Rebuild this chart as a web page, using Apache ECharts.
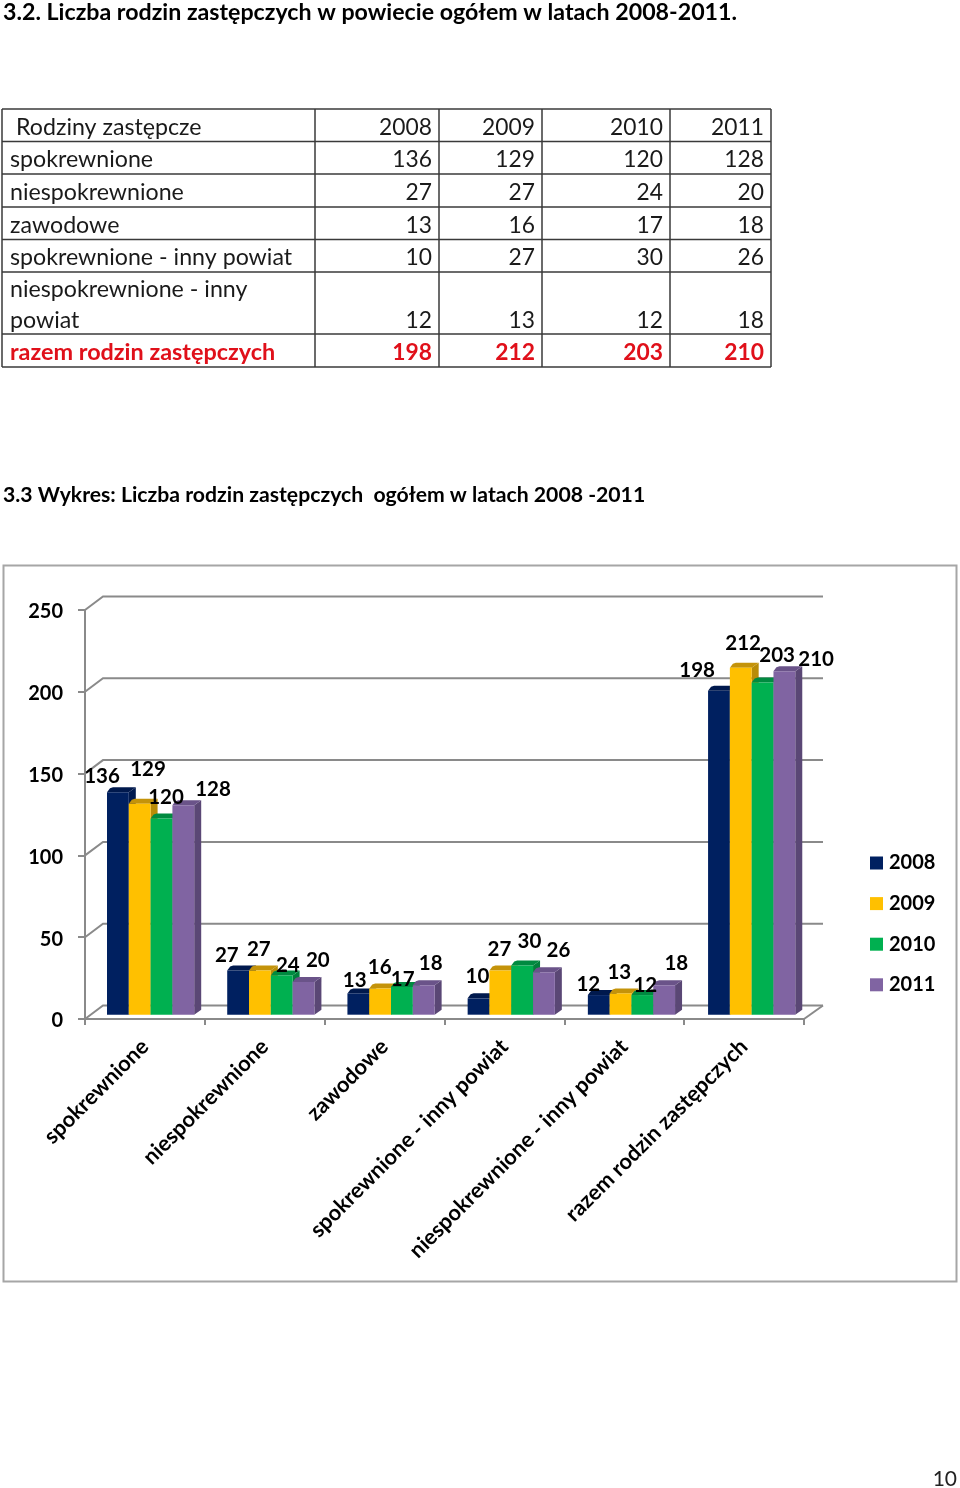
<!DOCTYPE html>
<html><head><meta charset="utf-8">
<style>html,body{margin:0;padding:0;background:#fff}#c{width:960px;height:1488px}</style>
<script src="https://cdn.jsdelivr.net/npm/echarts@6/dist/echarts.min.js"></script>
</head><body><div id="c"></div>
<script>
const categories = ['spokrewnione','niespokrewnione','zawodowe','spokrewnione - inny powiat','niespokrewnione - inny powiat','razem rodzin zastępczych'];
const years = ['2008','2009','2010','2011'];
const v2008 = [136,27,13,10,12,198];
const v2009 = [129,27,16,27,13,212];
const v2010 = [120,24,17,30,12,203];
const v2011 = [128,20,18,26,18,210];
const yTicks = [0,50,100,150,200,250];
const tableHeader = ['Rodziny zastępcze','2008','2009','2010','2011'];
const tableRows = [
  ['spokrewnione','136','129','120','128'],
  ['niespokrewnione','27','27','24','20'],
  ['zawodowe','13','16','17','18'],
  ['spokrewnione - inny powiat','10','27','30','26'],
  ['niespokrewnione - inny\npowiat','12','13','12','18'],
  ['razem rodzin zastępczych','198','212','203','210']
];
const title1 = '3.2. Liczba rodzin zastępczych w powiecie ogółem w latach 2008-2011.';
const title2 = '3.3 Wykres: Liczba rodzin zastępczych  ogółem w latach 2008 -2011';
const pageNo = '10';

// styling tables
const FONT = 'Lato, "Open Sans", sans-serif';
const faces = ['#002060','#FFC000','#00B050','#8064A2'];
const tops  = ['#00194d','#c4930a','#008a40','#6a5389'];
const sides = ['#001a4f','#b98c08','#007f3a','#5a4775'];
const labelNudge = [
 [[-16,-16],[8,-34],[4,-21],[29,-16]],
 [[-11,-15],[-1,-21],[6,-10],[14,-22]],
 [[-3,-13],[0,-21],[1,-7],[7,-22]],
 [[0,-22],[0,-21],[8,-24],[15,-22]],
 [[-9,-11],[0,-21],[4,-10],[13,-22]],
 [[-20,-20],[4,-24],[16,-27],[33,-12]]
];
const values = [v2008,v2009,v2010,v2011];
const colX = [2,315,439,542,670,771];
const rowY = [109,141.5,174,207,239.5,272,334,367];
const GREY = '#8a8a8a';
const DX = 18, DY = 13.5;      // wall depth
const BX = 7, BY = 5, BASE = 4.3, BW = 21.8, LEAD = 22, DRIFT = 0.38; // bar depth, size

const g = [];
const txt = (t,x,y,size,o={}) => g.push({type:'text',x,y,silent:true,style:{text:t,font:`${o.weight||'normal'} ${size}px ${FONT}`,fill:o.fill||'#111',align:o.align||'left',verticalAlign:'middle',lineHeight:size}});
txt(title1,3,13,23.2,{weight:'bold',fill:'#000'});
txt(title2,3,495,21.2,{weight:'bold',fill:'#000'});
txt(pageNo,957,1479,21,{align:'right',fill:'#222'});
// table grid
rowY.forEach(y=>g.push({type:'line',silent:true,shape:{x1:colX[0],y1:y,x2:colX[5],y2:y},style:{stroke:'#3a3a3a',lineWidth:1.5}}));
colX.forEach(x=>g.push({type:'line',silent:true,shape:{x1:x,y1:rowY[0],x2:x,y2:rowY[7]},style:{stroke:'#3a3a3a',lineWidth:1.5}}));
const TS = 23.2, TN = 22.8;
const rowsAll = [tableHeader].concat(tableRows);
rowsAll.forEach((r,i)=>{
  const red = i===6, two = i===5;
  const yc = two ? 321 : (rowY[i]+rowY[i+1])/2+2;
  const o = red?{weight:'bold',fill:'#e0101a'}:{fill:'#1a1a1a'};
  if(two){
    const parts = r[0].split('\n');
    txt(parts[0],10,290,TS,o); txt(parts[1],10,321,TS,o);
  } else txt(r[0],i===0?16:10,yc,red?23.4:TS,o);
  for(let k=1;k<5;k++) txt(r[k],colX[k+1]-7,yc,TN,Object.assign({align:'right'},o));
});
// chart frame
g.push({type:'rect',silent:true,z:-1,shape:{x:3.5,y:565.5,width:953,height:716},style:{fill:'none',stroke:'#a6a6a6',lineWidth:2}});

function barSeries(s){
  return {
    name: years[s], type:'custom', coordinateSystem:'cartesian2d', clip:false, z:3+s,
    itemStyle:{color:faces[s]},
    data: categories.map((c,i)=>[i,values[s][i]]),
    renderItem(params,api){
      const p = api.coord([api.value(0),api.value(1)]);
      const z = api.coord([api.value(0),0]);
      const band = api.size([1,0])[0];
      const x0 = p[0]-band/2+LEAD+BW*s+api.value(0)*DRIFT, x1 = x0+BW, yT = p[1]-BASE, yB = z[1]-BASE;
      return {type:'group',children:[
        {type:'polygon',shape:{points:[[x1,yT],[x1+BX,yT-BY],[x1+BX,yB-BY],[x1,yB]]},style:{fill:sides[s]}},
        {type:'polygon',shape:{points:[[x0,yT],[x0+3,yT-BY+1],[x0+6,yT-BY],[x1+BX,yT-BY],[x1,yT]]},style:{fill:tops[s]}},
        {type:'rect',shape:{x:x0,y:yT,width:BW,height:yB-yT},style:{fill:faces[s]}}
      ]};
    }
  };
}
const labelData = [];
categories.forEach((c,i)=>years.forEach((y,s)=>labelData.push([i,values[s][i],s,labelNudge[i][s][0],labelNudge[i][s][1]])));

const option = {
  animation:false,
  graphic:g,
  textStyle:{fontFamily:FONT},
  legend:{data:years,orient:'vertical',left:865,top:848,itemWidth:13,itemHeight:13,itemGap:20.6,icon:'rect',
    textStyle:{fontFamily:FONT,fontWeight:'bold',fontSize:20,color:'#000',padding:[0,0,0,1]}},
  grid:{left:85,top:610,width:719,height:409,containLabel:false},
  xAxis:{type:'category',data:categories,
    axisLine:{lineStyle:{color:GREY,width:2}},
    axisTick:{show:true,length:6,lineStyle:{color:GREY,width:2}},
    axisLabel:{interval:0,rotate:45,margin:24,fontFamily:FONT,fontWeight:'bold',fontSize:21.8,color:'#000'}},
  yAxis:{type:'value',min:0,max:250,interval:50,
    axisLine:{show:true,lineStyle:{color:GREY,width:2}},
    axisTick:{show:true,length:7,lineStyle:{color:GREY,width:2}},
    splitLine:{show:false},
    axisLabel:{margin:22,verticalAlign:'top',lineHeight:4,fontFamily:FONT,fontWeight:'bold',fontSize:20,color:'#000'}},
  series:[
    {name:'walls',type:'custom',coordinateSystem:'cartesian2d',clip:false,z:1,silent:true,
     data:yTicks.map(v=>[0,v]),
     renderItem(params,api){
       const y = api.coord([0,api.value(1)])[1], cs = params.coordSys;
       const right = cs.x+cs.width;
       const ch = [{type:'polyline',shape:{points:[[cs.x,y],[cs.x+DX,y-DY],[right+DX+1,y-DY]]},style:{fill:'none',stroke:GREY,lineWidth:2}}];
       if(api.value(1)===0) ch.push({type:'line',shape:{x1:right,y1:y,x2:right+DX+1,y2:y-DY},style:{stroke:GREY,lineWidth:2}});
       return {type:'group',children:ch};
     }},
    barSeries(0),barSeries(1),barSeries(2),barSeries(3),
    {name:'labels',type:'custom',coordinateSystem:'cartesian2d',clip:false,z:10,silent:true,
     data:labelData,
     renderItem(params,api){
       const p = api.coord([api.value(0),api.value(1)]);
       const band = api.size([1,0])[0], s = api.value(2);
       const x = p[0]-band/2+LEAD+22*s+11+api.value(3), y = p[1]-BASE+api.value(4);
       return {type:'text',x,y,style:{text:String(api.value(1)),font:`bold 20.5px ${FONT}`,fill:'#000',align:'center',verticalAlign:'middle'}};
     }}
  ]
};
echarts.init(document.getElementById('c')).setOption(option);
</script></body></html>
